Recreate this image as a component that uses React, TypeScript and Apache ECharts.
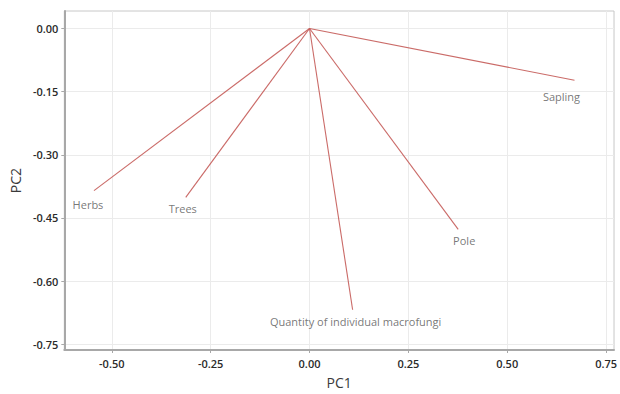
import React, { useEffect, useRef } from "react";
import * as echarts from "echarts";

// PCA loadings: each variable is drawn as a vector from the origin
const variables = ["Herbs", "Trees", "Quantity of individual macrofungi", "Pole", "Sapling"];
const pc1 = [-0.545, -0.313, 0.109, 0.376, 0.67];
const pc2 = [-0.385, -0.401, -0.668, -0.477, -0.123];

// axis ranges and tick positions
const xRange = [-0.62, 0.77];
const yRange = [-0.7636, 0.0415];
const xTicks = [-0.5, -0.25, 0, 0.25, 0.5, 0.75];
const yTicks = [-0.75, -0.6, -0.45, -0.3, -0.15, 0];

// small nudges for the variable names so they sit under each vector tip
const labelNudge: number[][] = [
  [-6, 14],
  [-3, 11],
  [3, 12],
  [6, 11],
  [-13, 16],
];

const FONT = "'Open Sans', 'Noto Sans', sans-serif";
const VEC = "#c45a57";

export default function App() {
  const ref = useRef<HTMLDivElement>(null);

  useEffect(() => {
    if (!ref.current) return;
    const chart = echarts.init(ref.current, undefined, { renderer: "svg" });

    const tickLabel = {
      color: "#2a2a2a",
      fontSize: 11,
      fontWeight: 600,
      fontFamily: FONT,
      formatter: (v: number) => v.toFixed(2),
    };
    const axisName = { color: "#3a3a3a", fontSize: 14, fontFamily: FONT };

    chart.setOption({
      animation: false,
      backgroundColor: "#ffffff",
      grid: {
        left: 60,
        top: 11,
        right: 2,
        bottom: 40,
        show: true,
        borderColor: "#c8c8c8",
        borderWidth: 1,
        backgroundColor: "transparent",
      },
      xAxis: {
        type: "value",
        min: xRange[0],
        max: xRange[1],
        name: "PC1",
        nameLocation: "middle",
        nameGap: 25,
        nameTextStyle: axisName,
        axisLine: { show: true, onZero: false, lineStyle: { color: "#a8a8a8", width: 2 } },
        axisTick: { show: true, length: 3, customValues: xTicks, lineStyle: { color: "#a8a8a8" } },
        axisLabel: { ...tickLabel, margin: 8, customValues: xTicks },
        splitLine: { show: true, lineStyle: { color: "#ebebeb", width: 1 } },
      },
      yAxis: {
        type: "value",
        min: yRange[0],
        max: yRange[1],
        name: "PC2",
        nameLocation: "middle",
        nameGap: 42,
        nameTextStyle: axisName,
        axisLine: { show: true, onZero: false, lineStyle: { color: "#a8a8a8", width: 2 } },
        axisTick: { show: true, length: 3, customValues: yTicks, lineStyle: { color: "#a8a8a8" } },
        axisLabel: { ...tickLabel, margin: 6, customValues: yTicks },
        splitLine: { show: true, lineStyle: { color: "#ebebeb", width: 1 } },
      },
      series: [
        {
          type: "lines",
          coordinateSystem: "cartesian2d",
          silent: true,
          lineStyle: { color: VEC, width: 1.1, opacity: 0.9 },
          data: variables.map((_, i) => ({ coords: [[0, 0], [pc1[i], pc2[i]]] })),
        },
        {
          type: "scatter",
          symbolSize: 0,
          silent: true,
          data: variables.map((name, i) => ({
            name,
            value: [pc1[i], pc2[i]],
            label: {
              show: true,
              position: "inside",
              offset: labelNudge[i],
              formatter: name,
              color: "#555",
              fontSize: 11,
              fontFamily: FONT,
            },
          })),
        },
      ],
    });

    return () => chart.dispose();
  }, []);

  return (
    <div
      ref={ref}
      style={{ position: "fixed", left: 0, top: 0, width: 620, height: 394 }}
    />
  );
}
